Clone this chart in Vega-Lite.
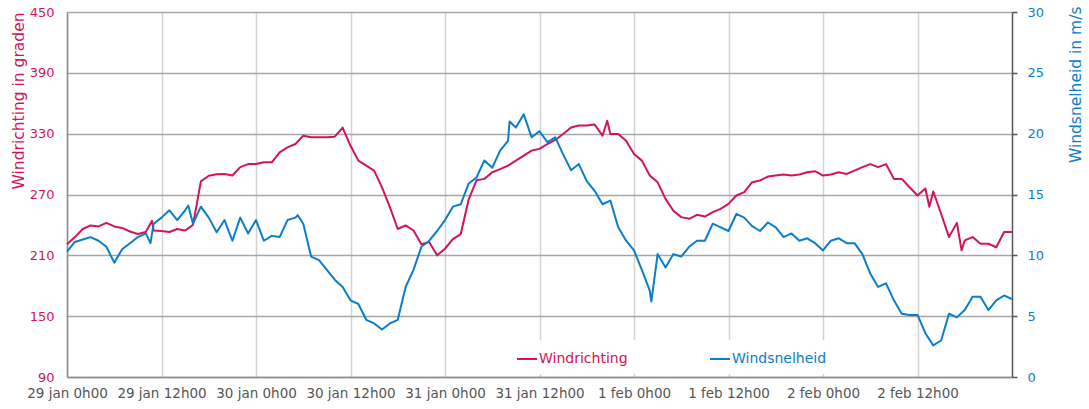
{
  "$schema": "https://vega.github.io/schema/vega-lite/v6.json",
  "width": 945,
  "height": 365,
  "autosize": {"type": "none"},
  "padding": {"left": 67, "top": 12, "right": 77, "bottom": 32},
  "background": "white",
  "config": {
    "view": {"stroke": null},
    "font": "DejaVu Sans",
    "legend": {
      "orient": "none",
      "legendX": 441,
      "legendY": 328,
      "direction": "horizontal",
      "symbolType": "stroke",
      "symbolSize": 400,
      "symbolStrokeWidth": 2,
      "labelFontSize": 14,
      "labelFont": "DejaVu Sans",
      "labelOffset": 1,
      "columnPadding": 78,
      "fillColor": "white",
      "padding": 8
    }
  },
  "datasets": {
    "richting": [
      {"t": "2024-01-29T00:00", "v": 221}, {"t": "2024-01-29T01:00", "v": 228}, {"t": "2024-01-29T02:00", "v": 236},
      {"t": "2024-01-29T03:00", "v": 239.5}, {"t": "2024-01-29T04:00", "v": 238.5}, {"t": "2024-01-29T05:00", "v": 242},
      {"t": "2024-01-29T06:00", "v": 238.5}, {"t": "2024-01-29T07:00", "v": 237}, {"t": "2024-01-29T08:00", "v": 233.5},
      {"t": "2024-01-29T09:00", "v": 231}, {"t": "2024-01-29T10:00", "v": 233}, {"t": "2024-01-29T10:48", "v": 244},
      {"t": "2024-01-29T11:00", "v": 234.5}, {"t": "2024-01-29T12:00", "v": 234}, {"t": "2024-01-29T13:00", "v": 233},
      {"t": "2024-01-29T14:00", "v": 236}, {"t": "2024-01-29T15:00", "v": 234.5}, {"t": "2024-01-29T16:00", "v": 240},
      {"t": "2024-01-29T17:00", "v": 283}, {"t": "2024-01-29T18:00", "v": 288.5}, {"t": "2024-01-29T19:00", "v": 290},
      {"t": "2024-01-29T20:00", "v": 290.3}, {"t": "2024-01-29T21:00", "v": 288.7}, {"t": "2024-01-29T22:00", "v": 297},
      {"t": "2024-01-29T23:00", "v": 300},
      {"t": "2024-01-30T00:00", "v": 300}, {"t": "2024-01-30T01:00", "v": 301.8}, {"t": "2024-01-30T02:00", "v": 301.8},
      {"t": "2024-01-30T03:00", "v": 311.6}, {"t": "2024-01-30T04:00", "v": 316.5}, {"t": "2024-01-30T05:00", "v": 319.8},
      {"t": "2024-01-30T06:00", "v": 328}, {"t": "2024-01-30T07:00", "v": 326.4}, {"t": "2024-01-30T08:00", "v": 326.4},
      {"t": "2024-01-30T09:00", "v": 326.4}, {"t": "2024-01-30T10:00", "v": 327}, {"t": "2024-01-30T11:00", "v": 336},
      {"t": "2024-01-30T12:00", "v": 318}, {"t": "2024-01-30T13:00", "v": 303.4}, {"t": "2024-01-30T14:00", "v": 298.5},
      {"t": "2024-01-30T15:00", "v": 293.6}, {"t": "2024-01-30T16:00", "v": 277}, {"t": "2024-01-30T17:00", "v": 257.5},
      {"t": "2024-01-30T18:00", "v": 236}, {"t": "2024-01-30T19:00", "v": 239.5}, {"t": "2024-01-30T20:00", "v": 234.5},
      {"t": "2024-01-30T21:00", "v": 221}, {"t": "2024-01-30T22:00", "v": 223}, {"t": "2024-01-30T23:00", "v": 210},
      {"t": "2024-01-31T00:00", "v": 216.5}, {"t": "2024-01-31T01:00", "v": 226}, {"t": "2024-01-31T02:00", "v": 231},
      {"t": "2024-01-31T03:00", "v": 265}, {"t": "2024-01-31T04:00", "v": 284}, {"t": "2024-01-31T05:00", "v": 285.4},
      {"t": "2024-01-31T06:00", "v": 292}, {"t": "2024-01-31T07:00", "v": 295}, {"t": "2024-01-31T08:00", "v": 298.5},
      {"t": "2024-01-31T09:00", "v": 303.4}, {"t": "2024-01-31T10:00", "v": 308.4}, {"t": "2024-01-31T11:00", "v": 313.3},
      {"t": "2024-01-31T12:00", "v": 315}, {"t": "2024-01-31T13:00", "v": 319.8}, {"t": "2024-01-31T14:00", "v": 323.8},
      {"t": "2024-01-31T15:00", "v": 329.7}, {"t": "2024-01-31T16:00", "v": 336}, {"t": "2024-01-31T17:00", "v": 338},
      {"t": "2024-01-31T18:00", "v": 338}, {"t": "2024-01-31T19:00", "v": 339}, {"t": "2024-01-31T20:00", "v": 328},
      {"t": "2024-01-31T20:36", "v": 342.8}, {"t": "2024-01-31T21:00", "v": 329.7}, {"t": "2024-01-31T22:00", "v": 329.7},
      {"t": "2024-01-31T23:00", "v": 323},
      {"t": "2024-02-01T00:00", "v": 310}, {"t": "2024-02-01T01:00", "v": 303.4}, {"t": "2024-02-01T02:00", "v": 288.7},
      {"t": "2024-02-01T03:00", "v": 282}, {"t": "2024-02-01T04:00", "v": 265.7}, {"t": "2024-02-01T05:00", "v": 254},
      {"t": "2024-02-01T06:00", "v": 247.7}, {"t": "2024-02-01T07:00", "v": 246}, {"t": "2024-02-01T08:00", "v": 250},
      {"t": "2024-02-01T09:00", "v": 248.3}, {"t": "2024-02-01T10:00", "v": 252.6}, {"t": "2024-02-01T11:00", "v": 255.9},
      {"t": "2024-02-01T12:00", "v": 260.8}, {"t": "2024-02-01T13:00", "v": 269}, {"t": "2024-02-01T14:00", "v": 272.3},
      {"t": "2024-02-01T15:00", "v": 282.1}, {"t": "2024-02-01T16:00", "v": 283.8}, {"t": "2024-02-01T17:00", "v": 287.7},
      {"t": "2024-02-01T18:00", "v": 288.7}, {"t": "2024-02-01T19:00", "v": 289.7}, {"t": "2024-02-01T20:00", "v": 288.7},
      {"t": "2024-02-01T21:00", "v": 289.7}, {"t": "2024-02-01T22:00", "v": 292}, {"t": "2024-02-01T23:00", "v": 293},
      {"t": "2024-02-02T00:00", "v": 288.7}, {"t": "2024-02-02T01:00", "v": 289.7}, {"t": "2024-02-02T02:00", "v": 292},
      {"t": "2024-02-02T03:00", "v": 290.3}, {"t": "2024-02-02T04:00", "v": 293.6}, {"t": "2024-02-02T05:00", "v": 297},
      {"t": "2024-02-02T06:00", "v": 300}, {"t": "2024-02-02T07:00", "v": 297}, {"t": "2024-02-02T08:00", "v": 300},
      {"t": "2024-02-02T09:00", "v": 285.4}, {"t": "2024-02-02T10:00", "v": 285.4}, {"t": "2024-02-02T11:00", "v": 277.2},
      {"t": "2024-02-02T12:00", "v": 269}, {"t": "2024-02-02T13:00", "v": 276}, {"t": "2024-02-02T13:30", "v": 258},
      {"t": "2024-02-02T14:00", "v": 273}, {"t": "2024-02-02T15:00", "v": 251}, {"t": "2024-02-02T16:00", "v": 228},
      {"t": "2024-02-02T17:00", "v": 242}, {"t": "2024-02-02T17:36", "v": 215}, {"t": "2024-02-02T18:00", "v": 224.7},
      {"t": "2024-02-02T19:00", "v": 228}, {"t": "2024-02-02T20:00", "v": 221.4}, {"t": "2024-02-02T21:00", "v": 221.4},
      {"t": "2024-02-02T22:00", "v": 218}, {"t": "2024-02-02T23:00", "v": 233},
      {"t": "2024-02-03T00:00", "v": 233}
    ],
    "snelheid": [
      {"t": "2024-01-29T00:00", "v": 10.3}, {"t": "2024-01-29T01:00", "v": 11.1}, {"t": "2024-01-29T02:00", "v": 11.3},
      {"t": "2024-01-29T03:00", "v": 11.5}, {"t": "2024-01-29T04:00", "v": 11.2}, {"t": "2024-01-29T05:00", "v": 10.7},
      {"t": "2024-01-29T06:00", "v": 9.4}, {"t": "2024-01-29T07:00", "v": 10.5}, {"t": "2024-01-29T08:00", "v": 11.0},
      {"t": "2024-01-29T09:00", "v": 11.5}, {"t": "2024-01-29T10:00", "v": 11.8}, {"t": "2024-01-29T10:36", "v": 11.0},
      {"t": "2024-01-29T11:00", "v": 12.6}, {"t": "2024-01-29T12:00", "v": 13.1}, {"t": "2024-01-29T13:00", "v": 13.7},
      {"t": "2024-01-29T14:00", "v": 12.9}, {"t": "2024-01-29T15:00", "v": 13.7}, {"t": "2024-01-29T15:24", "v": 14.1},
      {"t": "2024-01-29T16:00", "v": 12.6}, {"t": "2024-01-29T17:00", "v": 14.0}, {"t": "2024-01-29T18:00", "v": 13.1},
      {"t": "2024-01-29T19:00", "v": 11.9}, {"t": "2024-01-29T20:00", "v": 12.9}, {"t": "2024-01-29T21:00", "v": 11.2},
      {"t": "2024-01-29T22:00", "v": 13.1}, {"t": "2024-01-29T23:00", "v": 11.8},
      {"t": "2024-01-30T00:00", "v": 12.9}, {"t": "2024-01-30T01:00", "v": 11.2}, {"t": "2024-01-30T02:00", "v": 11.6},
      {"t": "2024-01-30T03:00", "v": 11.5}, {"t": "2024-01-30T04:00", "v": 12.9}, {"t": "2024-01-30T05:00", "v": 13.1},
      {"t": "2024-01-30T05:18", "v": 13.3}, {"t": "2024-01-30T06:00", "v": 12.6}, {"t": "2024-01-30T07:00", "v": 9.9},
      {"t": "2024-01-30T08:00", "v": 9.6}, {"t": "2024-01-30T09:00", "v": 8.8}, {"t": "2024-01-30T10:00", "v": 8.0},
      {"t": "2024-01-30T11:00", "v": 7.4}, {"t": "2024-01-30T12:00", "v": 6.3}, {"t": "2024-01-30T13:00", "v": 6.0},
      {"t": "2024-01-30T14:00", "v": 4.7}, {"t": "2024-01-30T15:00", "v": 4.4}, {"t": "2024-01-30T16:00", "v": 3.9},
      {"t": "2024-01-30T17:00", "v": 4.4}, {"t": "2024-01-30T18:00", "v": 4.7}, {"t": "2024-01-30T19:00", "v": 7.4},
      {"t": "2024-01-30T20:00", "v": 8.8}, {"t": "2024-01-30T21:00", "v": 10.7}, {"t": "2024-01-30T22:00", "v": 11.2},
      {"t": "2024-01-30T23:00", "v": 12.0},
      {"t": "2024-01-31T00:00", "v": 12.9}, {"t": "2024-01-31T01:00", "v": 14.0}, {"t": "2024-01-31T02:00", "v": 14.2},
      {"t": "2024-01-31T03:00", "v": 15.9}, {"t": "2024-01-31T04:00", "v": 16.4}, {"t": "2024-01-31T05:00", "v": 17.8},
      {"t": "2024-01-31T06:00", "v": 17.2}, {"t": "2024-01-31T07:00", "v": 18.6}, {"t": "2024-01-31T08:00", "v": 19.4},
      {"t": "2024-01-31T08:12", "v": 21.0}, {"t": "2024-01-31T09:00", "v": 20.5}, {"t": "2024-01-31T10:00", "v": 21.6},
      {"t": "2024-01-31T11:00", "v": 19.7}, {"t": "2024-01-31T12:00", "v": 20.2}, {"t": "2024-01-31T13:00", "v": 19.3},
      {"t": "2024-01-31T14:00", "v": 19.7}, {"t": "2024-01-31T15:00", "v": 18.3}, {"t": "2024-01-31T16:00", "v": 17.0},
      {"t": "2024-01-31T17:00", "v": 17.5}, {"t": "2024-01-31T18:00", "v": 16.1}, {"t": "2024-01-31T19:00", "v": 15.3},
      {"t": "2024-01-31T20:00", "v": 14.2}, {"t": "2024-01-31T21:00", "v": 14.5}, {"t": "2024-01-31T22:00", "v": 12.3},
      {"t": "2024-01-31T23:00", "v": 11.2},
      {"t": "2024-02-01T00:00", "v": 10.4}, {"t": "2024-02-01T01:00", "v": 8.8}, {"t": "2024-02-01T02:00", "v": 7.1},
      {"t": "2024-02-01T02:12", "v": 6.2}, {"t": "2024-02-01T03:00", "v": 10.1}, {"t": "2024-02-01T04:00", "v": 9.0},
      {"t": "2024-02-01T05:00", "v": 10.1}, {"t": "2024-02-01T06:00", "v": 9.9}, {"t": "2024-02-01T07:00", "v": 10.7},
      {"t": "2024-02-01T08:00", "v": 11.2}, {"t": "2024-02-01T09:00", "v": 11.2}, {"t": "2024-02-01T10:00", "v": 12.6},
      {"t": "2024-02-01T11:00", "v": 12.3}, {"t": "2024-02-01T12:00", "v": 12.0}, {"t": "2024-02-01T13:00", "v": 13.4},
      {"t": "2024-02-01T14:00", "v": 13.1}, {"t": "2024-02-01T15:00", "v": 12.4}, {"t": "2024-02-01T16:00", "v": 12.0},
      {"t": "2024-02-01T17:00", "v": 12.7}, {"t": "2024-02-01T18:00", "v": 12.3}, {"t": "2024-02-01T19:00", "v": 11.5},
      {"t": "2024-02-01T20:00", "v": 11.8}, {"t": "2024-02-01T21:00", "v": 11.2}, {"t": "2024-02-01T22:00", "v": 11.4},
      {"t": "2024-02-01T23:00", "v": 11.0},
      {"t": "2024-02-02T00:00", "v": 10.4}, {"t": "2024-02-02T01:00", "v": 11.2}, {"t": "2024-02-02T02:00", "v": 11.4},
      {"t": "2024-02-02T03:00", "v": 11.0}, {"t": "2024-02-02T04:00", "v": 11.0}, {"t": "2024-02-02T05:00", "v": 10.1},
      {"t": "2024-02-02T06:00", "v": 8.5}, {"t": "2024-02-02T07:00", "v": 7.4}, {"t": "2024-02-02T08:00", "v": 7.7},
      {"t": "2024-02-02T09:00", "v": 6.3}, {"t": "2024-02-02T10:00", "v": 5.2}, {"t": "2024-02-02T11:00", "v": 5.1},
      {"t": "2024-02-02T12:00", "v": 5.1}, {"t": "2024-02-02T13:00", "v": 3.6}, {"t": "2024-02-02T14:00", "v": 2.6},
      {"t": "2024-02-02T15:00", "v": 3.0}, {"t": "2024-02-02T16:00", "v": 5.2}, {"t": "2024-02-02T17:00", "v": 4.9},
      {"t": "2024-02-02T18:00", "v": 5.5}, {"t": "2024-02-02T19:00", "v": 6.6}, {"t": "2024-02-02T20:00", "v": 6.6},
      {"t": "2024-02-02T21:00", "v": 5.5}, {"t": "2024-02-02T22:00", "v": 6.3}, {"t": "2024-02-02T23:00", "v": 6.7},
      {"t": "2024-02-03T00:00", "v": 6.4}
    ]
  },
  "layer": [
    {
      "data": {"name": "richting"},
      "mark": {"type": "line", "strokeWidth": 2, "strokeJoin": "round"},
      "encoding": {
        "x": {
          "field": "t",
          "type": "temporal",
          "scale": {"domain": [{"year": 2024, "month": 1, "date": 29}, {"year": 2024, "month": 2, "date": 3}]},
          "axis": {
            "title": null,
            "values": [
              {"year": 2024, "month": 1, "date": 29, "hours": 0}, {"year": 2024, "month": 1, "date": 29, "hours": 12},
              {"year": 2024, "month": 1, "date": 30, "hours": 0}, {"year": 2024, "month": 1, "date": 30, "hours": 12},
              {"year": 2024, "month": 1, "date": 31, "hours": 0}, {"year": 2024, "month": 1, "date": 31, "hours": 12},
              {"year": 2024, "month": 2, "date": 1, "hours": 0}, {"year": 2024, "month": 2, "date": 1, "hours": 12},
              {"year": 2024, "month": 2, "date": 2, "hours": 0}, {"year": 2024, "month": 2, "date": 2, "hours": 12}
            ],
            "labelExpr": "lower(timeFormat(datum.value, '%-d %b %-Hh%M'))",
            "labelOverlap": false,
            "labelFlush": false,
            "grid": true,
            "gridColor": "#d3d3d3",
            "gridWidth": 1.5,
            "ticks": false,
            "tickSize": 0,
            "domainColor": "#8a8a8a",
            "domainWidth": 1.5,
            "labelColor": "#555555",
            "labelFontSize": 13.5,
            "labelPadding": 9
          }
        },
        "y": {
          "field": "v",
          "type": "quantitative",
          "scale": {"domain": [90, 450], "nice": false, "zero": false},
          "axis": {
            "title": "Windrichting in graden",
            "values": [90, 150, 210, 270, 330, 390, 450],
            "grid": true,
            "gridColor": "#a6a6a6",
            "gridWidth": 1.5,
            "ticks": false,
            "tickSize": 0,
            "domainColor": "#8a8a8a",
            "domainWidth": 1.5,
            "labelColor": "#d2145a",
            "labelFontSize": 13,
            "labelPadding": 13,
            "titleColor": "#d2145a",
            "titleFontSize": 15.5,
            "titleFontWeight": "normal",
            "titleAnchor": "end",
            "titlePadding": 3
          }
        },
        "color": {
          "datum": "Windrichting",
          "type": "nominal",
          "scale": {"domain": ["Windrichting", "Windsnelheid"], "range": ["#d2145a", "#0b7ec8"]},
          "legend": {
            "title": null,
            "encode": {"labels": {"update": {"fill": {"signal": "datum.value === 'Windrichting' ? '#d2145a' : '#0b7ec8'"}}}}
          }
        }
      }
    },
    {
      "data": {"name": "snelheid"},
      "mark": {"type": "line", "strokeWidth": 2, "strokeJoin": "round"},
      "encoding": {
        "x": {"field": "t", "type": "temporal"},
        "y": {
          "field": "v",
          "type": "quantitative",
          "scale": {"domain": [0, 30], "nice": false},
          "axis": {
            "orient": "right",
            "title": "Windsnelheid in m/s",
            "values": [0, 5, 10, 15, 20, 25, 30],
            "grid": false,
            "ticks": true,
            "tickSize": 5,
            "tickColor": "#555555",
            "tickWidth": 1.5,
            "domainColor": "#555555",
            "domainWidth": 1.5,
            "labelColor": "#0b7ec8",
            "labelFontSize": 13,
            "labelPadding": 10,
            "titleColor": "#0b7ec8",
            "titleFontSize": 15.5,
            "titleFontWeight": "normal",
            "titleAnchor": "end",
            "titleAngle": 270,
            "titleAlign": "right",
            "titleY": -6,
            "titlePadding": 40
          }
        },
        "color": {
          "datum": "Windsnelheid",
          "type": "nominal",
          "legend": {
            "title": null,
            "encode": {"labels": {"update": {"fill": {"signal": "datum.value === 'Windrichting' ? '#d2145a' : '#0b7ec8'"}}}}
          }
        }
      }
    }
  ],
  "resolve": {"scale": {"y": "independent"}}
}
